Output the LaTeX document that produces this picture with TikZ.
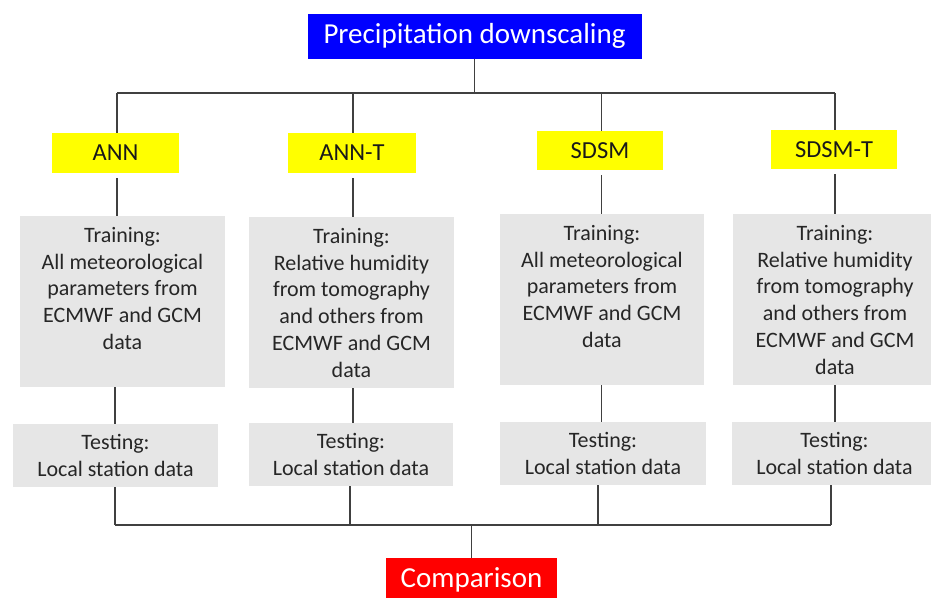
\documentclass[tikz,border=0pt]{standalone}
\usepackage{fontspec}
\setmainfont{Carlito}
\definecolor{boxgray}{RGB}{230,230,230}
\definecolor{linegray}{RGB}{64,64,64}
\definecolor{pblue}{RGB}{0,0,255}
\definecolor{pyellow}{RGB}{255,255,0}
\definecolor{pred}{RGB}{255,0,0}
\tikzset{
  topbox/.style={fill=pblue, text=white, inner sep=0pt, minimum width=334pt, minimum height=45pt, font=\fontsize{29}{32}\selectfont},
  cmpbox/.style={fill=pred, text=white, inner sep=0pt, minimum width=171pt, minimum height=44pt, font=\fontsize{29}{32}\selectfont},
  methbox/.style={fill=pyellow, text=black!90, inner sep=0pt, minimum height=40pt, font=\fontsize{24.5}{28}\selectfont},
  trainbox/.style={fill=boxgray, text=black!85, inner sep=0pt, font=\fontsize{22}{26.7}\selectfont},
  testbox/.style={fill=boxgray, text=black!85, inner sep=0pt, font=\fontsize{22}{26.7}\selectfont},
  conn/.style={draw=linegray, line width=1.1pt}
}
\newcommand{\trtext}[2]{\parbox[c][171pt][t]{#1}{\centering\rule{0pt}{26.5pt}#2\par}}
\newcommand{\tetext}[2]{\parbox[c][63pt][c]{#1}{\centering #2\par}}
\begin{document}
\begin{tikzpicture}[x=1pt,y=-1pt]
\useasboundingbox (0,0) rectangle (931,597);
% top and bottom
\node[topbox] (top) at (474.5,36) {Precipitation downscaling};
\node[cmpbox] (cmp) at (471.5,580) {Comparison};
% methods
\node[methbox, minimum width=127pt] (ann) at (115.5,153) {ANN};
\node[methbox, minimum width=128pt] (annt) at (352,153) {ANN-T};
\node[methbox, minimum width=126pt, minimum height=39pt] (sdsm) at (600,150.5) {SDSM};
\node[methbox, minimum width=126pt, minimum height=39pt] (sdsmt) at (834,149.5) {SDSM-T};
% training
\node[trainbox] (trA) at (122.5,301.5) {\trtext{205pt}{Training:\\All meteorological\\parameters from\\ECMWF and GCM\\data}};
\node[trainbox] (trB) at (351.5,302.5) {\trtext{205pt}{Training:\\Relative humidity\\from tomography\\and others from\\ECMWF and GCM\\data}};
\node[trainbox] (trC) at (602,299.5) {\trtext{204pt}{Training:\\All meteorological\\parameters from\\ECMWF and GCM\\data}};
\node[trainbox] (trD) at (835,299.5) {\trtext{204pt}{Training:\\Relative humidity\\from tomography\\and others from\\ECMWF and GCM\\data}};
% testing
\node[testbox] (teA) at (115.5,455.5) {\tetext{205pt}{Testing:\\Local station data}};
\node[testbox] (teB) at (351,454.5) {\tetext{204pt}{Testing:\\Local station data}};
\node[testbox] (teC) at (603,453.5) {\tetext{206pt}{Testing:\\Local station data}};
\node[testbox] (teD) at (834.5,453.5) {\tetext{205pt}{Testing:\\Local station data}};
% bus coordinates
\coordinate (b1) at (117,93);
\coordinate (b2) at (353,93);
\coordinate (b3) at (601.5,93);
\coordinate (b4) at (835,93);
\coordinate (c1) at (115,525);
\coordinate (c2) at (350,525);
\coordinate (c3) at (598,525);
\coordinate (c4) at (831,525);
% connectors
\draw[conn] (top.south) -- (top.south |- b1);
\draw[conn] (b1) -- (b4);
\draw[conn] (b1) -- (b1 |- ann.north);
\draw[conn] (b2) -- (b2 |- annt.north);
\draw[conn] (b3) -- (b3 |- sdsm.north);
\draw[conn] (b4) -- (b4 |- sdsmt.north);
\draw[conn] (b1 |- ann.south) ++(0,5) -- (b1 |- trA.north);
\draw[conn] (b2 |- annt.south) ++(0,5) -- (b2 |- trB.north);
\draw[conn] (b3 |- sdsm.south) ++(0,5) -- (b3 |- trC.north);
\draw[conn] (b4 |- sdsmt.south) ++(0,5) -- (b4 |- trD.north);
\draw[conn] (trA.south -| c1) -- (teA.north -| c1);
\draw[conn] (trB.south -| b2) -- (teB.north -| b2);
\draw[conn] (trC.south -| b3) -- (teC.north -| b3);
\draw[conn] (trD.south -| b4) -- (teD.north -| b4);
\draw[conn] (teA.south -| c1) -- (c1);
\draw[conn] (teB.south -| c2) -- (c2);
\draw[conn] (teC.south -| c3) -- (c3);
\draw[conn] (teD.south -| c4) -- (c4);
\draw[conn] (c1) -- (c4);
\draw[conn] (cmp.north |- c1) -- (cmp.north);
\end{tikzpicture}
\end{document}
